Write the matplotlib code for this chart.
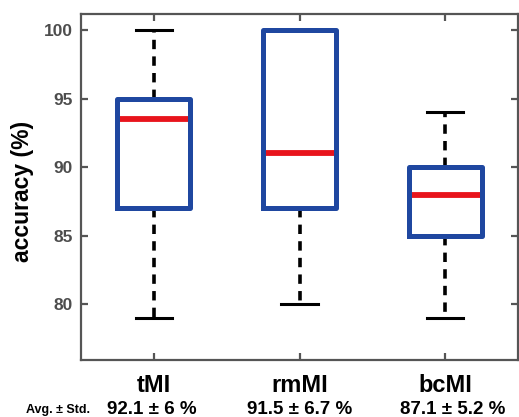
import matplotlib
matplotlib.use("Agg")
import matplotlib.pyplot as plt

categories = ["tMI", "rmMI", "bcMI"]
whisker_low = [79, 80, 79]
q1 = [87, 87, 85]
median = [93.5, 91, 88]
q3 = [95, 100, 90]
whisker_high = [100, 100, 94]
summary = ["92.1 ± 6 %", "91.5 ± 6.7 %", "87.1 ± 5.2 %"]
yticks = [80, 85, 90, 95, 100]

plt.rcParams['font.family'] = ['Liberation Sans', 'DejaVu Sans']
plt.rcParams['font.weight'] = 'bold'

W, H = 519, 417
fig = plt.figure(figsize=(W / 100, H / 100), dpi=100)
ax = fig.add_axes([81 / W, 1 - 360 / H, (518 - 81) / W, (360 - 14) / H])

stats = []
for i, c in enumerate(categories):
    stats.append(dict(label=c, whislo=whisker_low[i], q1=q1[i], med=median[i],
                      q3=q3[i], whishi=whisker_high[i], fliers=[]))

blue = '#1f47a0'
red = '#e8141c'
ax.bxp(stats, positions=[1, 2, 3], widths=0.5, showfliers=False,
       boxprops=dict(color=blue, linewidth=3.6, zorder=4),
       medianprops=dict(color=red, linewidth=4.2, zorder=3, solid_capstyle='butt'),
       whiskerprops=dict(color='black', linewidth=2.6, linestyle=(0, (2.6, 2.0)), zorder=2),
       capprops=dict(color='black', linewidth=2.2),
       capwidths=0.25)

ax.set_xlim(0.5, 3.5)
ax.set_ylim(75.9, 101.2)
ax.set_yticks(yticks)
ax.set_yticklabels([str(v) for v in yticks])
ax.set_xticks([1, 2, 3])
ax.set_xticklabels(categories, fontsize=17, fontweight='bold', color='black')

spine_col = '#555555'
for s in ax.spines.values():
    s.set_color(spine_col)
    s.set_linewidth(1.6)
ax.tick_params(direction='in', length=5, width=1.6, color=spine_col,
               top=True, right=True)
ax.tick_params(axis='y', labelsize=12.5, labelcolor='#4d4d4d', pad=6)
ax.tick_params(axis='x', pad=10)
for lab in ax.get_yticklabels():
    lab.set_fontweight('bold')

ax.set_ylabel('accuracy (%)', fontsize=16.5, fontweight='bold')
ax.yaxis.set_label_coords(34 / W, 1 - 191 / H, transform=fig.transFigure)

fig.text(58 / W, 1 - 410 / H, 'Avg. ± Std.', fontsize=9, fontweight='bold',
         ha='center', va='center')
xpix = [152, 300, 453]
for x, s in zip(xpix, summary):
    fig.text(x / W, 1 - 409 / H, s, fontsize=13.5, fontweight='bold',
             ha='center', va='center')

fig.savefig('out.png', dpi=100)
